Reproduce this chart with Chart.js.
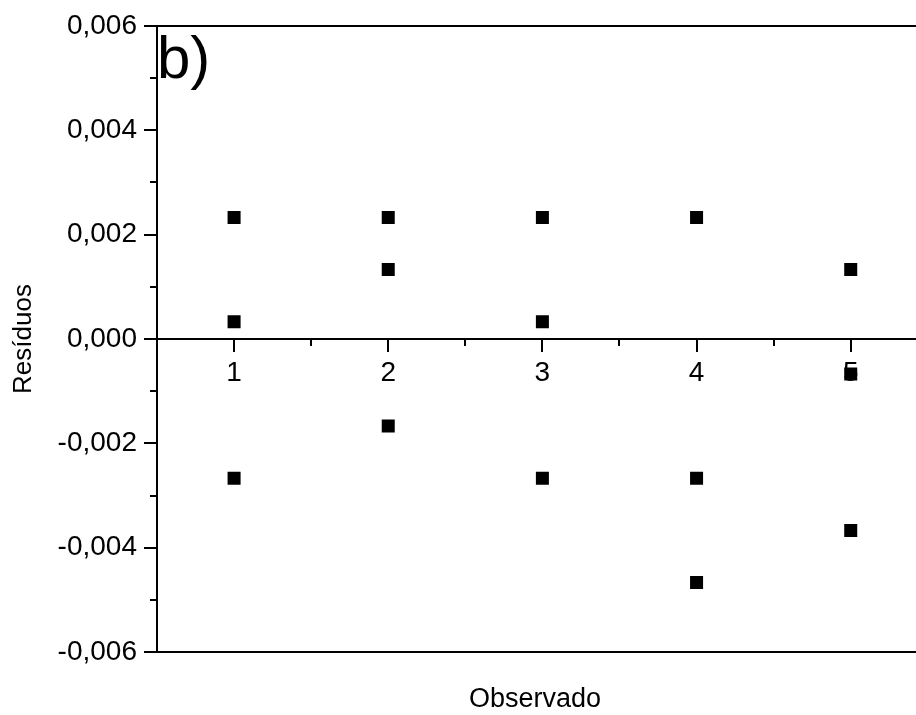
<!DOCTYPE html>
<html>
<head>
<meta charset="utf-8">
<script src="https://cdn.jsdelivr.net/npm/chart.js@4.4.1/dist/chart.umd.min.js"></script>
<style>
  html, body { margin: 0; padding: 0; background: #fff; overflow: hidden; }
  #wrap { position: relative; width: 916px; height: 715px; overflow: hidden; }
</style>
</head>
<body>
<div id="wrap"><canvas id="c" width="926" height="715"></canvas></div>
<script>
// ---- data ----
const observed = [1, 1, 1, 2, 2, 2, 3, 3, 3, 4, 4, 4, 5, 5, 5];
const residuals = [0.00233, 0.00033, -0.00267,
                   0.00233, 0.00133, -0.00167,
                   0.00233, 0.00033, -0.00267,
                   0.00233, -0.00267, -0.00467,
                   0.00133, -0.00067, -0.00367];
const xTickValues = [1, 2, 3, 4, 5];
const yTickValues = [-0.006, -0.004, -0.002, 0, 0.002, 0.004, 0.006];
const xTitle = 'Observado';
const yTitle = 'Resíduos';
const panelLabel = 'b)';

const FONT = "'Liberation Sans', Arial, sans-serif";

const points = observed.map((x, i) => ({ x: x, y: residuals[i] }));

const frameTicks = {
  id: 'frameTicks',
  beforeDatasetsDraw(chart) {
    const { ctx, chartArea: a, scales } = chart;
    const xs = scales.x, ys = scales.y;
    const y0 = ys.getPixelForValue(0);
    ctx.save();
    ctx.strokeStyle = '#000';
    ctx.lineWidth = 2;
    ctx.beginPath();
    // top & bottom frame
    ctx.moveTo(a.left, a.top); ctx.lineTo(a.right, a.top);
    ctx.moveTo(a.left, a.bottom); ctx.lineTo(a.right, a.bottom);
    // y ticks (major + minor)
    for (let k = -6; k <= 6; k++) {
      const py = Math.round(ys.getPixelForValue(k / 1000));
      const len = (k % 2 === 0) ? 13 : 7;
      ctx.moveTo(a.left - len, py); ctx.lineTo(a.left, py);
    }
    // x ticks along zero line
    for (let k = 1; k <= 10; k++) {
      const v = k / 2 + 0.5;
      if (v > xs.max) break;
      const px = Math.round(xs.getPixelForValue(v));
      const len = (k % 2 === 1) ? 13 : 7;
      ctx.moveTo(px, y0); ctx.lineTo(px, y0 + len);
    }
    ctx.stroke();
    // x title
    ctx.fillStyle = '#000';
    ctx.font = '27px ' + FONT;
    ctx.textAlign = 'center';
    ctx.textBaseline = 'alphabetic';
    ctx.fillText(xTitle, 535, 707);
    // panel label
    ctx.font = '60px ' + FONT;
    ctx.textAlign = 'left';
    ctx.fillText(panelLabel, a.left, 78);
    ctx.restore();
  }
};

new Chart(document.getElementById('c'), {
  type: 'scatter',
  data: {
    datasets: [{
      data: points,
      pointStyle: 'rect',
      pointRadius: 9.2,
      pointHoverRadius: 9.2,
      backgroundColor: '#000',
      borderColor: '#000',
      borderWidth: 0
    }]
  },
  options: {
    responsive: false,
    animation: false,
    events: [],
    layout: { padding: { top: 26, bottom: 63, left: 0, right: 0 } },
    plugins: { legend: { display: false }, tooltip: { enabled: false } },
    scales: {
      x: {
        type: 'linear',
        position: { y: 0 },
        min: 0.5,
        max: 5.4286,
        afterBuildTicks: s => { s.ticks = xTickValues.map(v => ({ value: v })); },
        grid: { display: false, drawTicks: true, tickLength: 17 },
        border: { display: true, color: '#000', width: 2 },
        ticks: {
          color: '#000',
          font: { family: FONT, size: 28 },
          padding: 0,
          maxRotation: 0,
          callback: v => String(v)
        }
      },
      y: {
        type: 'linear',
        position: 'left',
        min: -0.006,
        max: 0.006,
        afterFit: s => { s.width = 157; },
        afterBuildTicks: s => { s.ticks = yTickValues.map(v => ({ value: v })); },
        grid: { display: false, drawTicks: true, tickLength: 20 },
        border: { display: true, color: '#000', width: 2 },
        ticks: {
          color: '#000',
          font: { family: FONT, size: 28 },
          padding: 0,
          callback: v => (Math.abs(v) < 1e-9 ? 0 : v).toFixed(3).replace('.', ',')
        },
        title: {
          display: true,
          text: yTitle,
          color: '#000',
          font: { family: FONT, size: 26 },
          padding: { top: 8, bottom: 0 }
        }
      }
    }
  },
  plugins: [frameTicks]
});
</script>
</body>
</html>
